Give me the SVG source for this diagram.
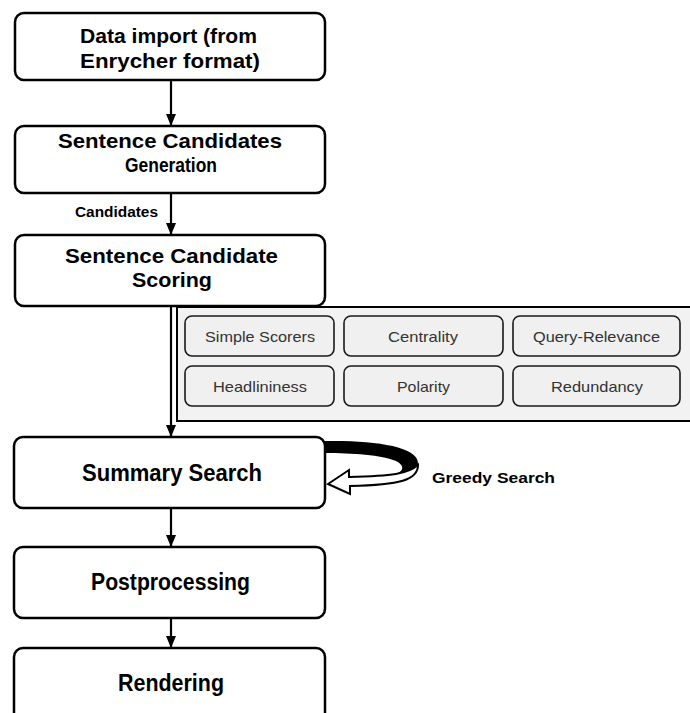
<svg xmlns="http://www.w3.org/2000/svg" width="690" height="713" viewBox="0 0 690 713">
  <defs>
    <marker id="arrow" markerWidth="12" markerHeight="14" refX="11" refY="5" orient="auto" markerUnits="userSpaceOnUse">
      <path d="M0,0 L12,5 L0,10 Z" fill="#000"/>
    </marker>
    <style>
      .step { fill: #fff; stroke: #000; stroke-width: 2.5; }
      .step-label { font-family: "Liberation Sans", Arial, sans-serif; font-weight: bold; font-size: 20.5px; fill: #000; }
      .step-label.big { font-size: 23px; }
      .panel { fill: #f2f2f2; stroke: #000; stroke-width: 2; }
      .scorer { fill: #f0f0f0; stroke: #1a1a1a; stroke-width: 1.6; }
      .scorer-label { font-family: "Liberation Sans", Arial, sans-serif; font-size: 14.5px; fill: #333; }
      .edge { stroke: #000; stroke-width: 2.2; fill: none; marker-end: url(#arrow); }
      .edge-label { font-family: "Liberation Sans", Arial, sans-serif; font-weight: bold; font-size: 14px; fill: #000; }
    </style>
  </defs>

  <rect width="690" height="713" fill="#fff"/>

  <!-- scorer panel attached to the scoring step -->
  <g id="scorers">
    <rect class="panel" x="177" y="307" width="530" height="114"/>
    <g id="scorer-simple">
      <rect class="scorer" x="185" y="316" width="149" height="40" rx="7"/>
      <text class="scorer-label" x="205" y="342" textLength="110" lengthAdjust="spacingAndGlyphs">Simple Scorers</text>
    </g>
    <g id="scorer-centrality">
      <rect class="scorer" x="344" y="316" width="159" height="40" rx="7"/>
      <text class="scorer-label" x="388" y="342" textLength="70" lengthAdjust="spacingAndGlyphs">Centrality</text>
    </g>
    <g id="scorer-query">
      <rect class="scorer" x="513" y="316" width="167" height="40" rx="7"/>
      <text class="scorer-label" x="533" y="342" textLength="127" lengthAdjust="spacingAndGlyphs">Query-Relevance</text>
    </g>
    <g id="scorer-headlininess">
      <rect class="scorer" x="185" y="366" width="149" height="40" rx="7"/>
      <text class="scorer-label" x="213" y="392" textLength="94" lengthAdjust="spacingAndGlyphs">Headlininess</text>
    </g>
    <g id="scorer-polarity">
      <rect class="scorer" x="344" y="366" width="159" height="40" rx="7"/>
      <text class="scorer-label" x="397" y="392" textLength="53" lengthAdjust="spacingAndGlyphs">Polarity</text>
    </g>
    <g id="scorer-redundancy">
      <rect class="scorer" x="513" y="366" width="167" height="40" rx="7"/>
      <text class="scorer-label" x="551" y="392" textLength="92" lengthAdjust="spacingAndGlyphs">Redundancy</text>
    </g>
  </g>

  <!-- pipeline steps -->
  <g id="import">
    <rect class="step" x="15" y="13" width="310" height="67" rx="9"/>
    <text class="step-label" x="80" y="43" textLength="177" lengthAdjust="spacingAndGlyphs">Data import (from</text>
    <text class="step-label" x="80" y="68" textLength="180" lengthAdjust="spacingAndGlyphs">Enrycher format)</text>
  </g>
  <g id="generation">
    <rect class="step" x="15" y="126" width="310" height="67" rx="9"/>
    <text class="step-label" x="58" y="148" textLength="224" lengthAdjust="spacingAndGlyphs">Sentence Candidates</text>
    <text class="step-label" x="125" y="172" textLength="92" lengthAdjust="spacingAndGlyphs">Generation</text>
  </g>
  <g id="scoring">
    <rect class="step" x="15" y="235" width="310" height="71" rx="9"/>
    <text class="step-label" x="65" y="263" textLength="213" lengthAdjust="spacingAndGlyphs">Sentence Candidate</text>
    <text class="step-label" x="132" y="287" textLength="80" lengthAdjust="spacingAndGlyphs">Scoring</text>
  </g>
  <g id="search">
    <rect class="step" x="14" y="437" width="311" height="71" rx="9"/>
    <text class="step-label big" x="82" y="481" textLength="180" lengthAdjust="spacingAndGlyphs">Summary Search</text>
  </g>
  <g id="postprocessing">
    <rect class="step" x="14" y="547" width="311" height="71" rx="9"/>
    <text class="step-label big" x="91" y="590" textLength="159" lengthAdjust="spacingAndGlyphs">Postprocessing</text>
  </g>
  <g id="rendering">
    <rect class="step" x="14" y="648" width="311" height="80" rx="9"/>
    <text class="step-label big" x="118" y="691" textLength="106" lengthAdjust="spacingAndGlyphs">Rendering</text>
  </g>

  <!-- connectors -->
  <g id="connectors">
    <line class="edge" x1="171" y1="80" x2="171" y2="125"/>
    <line class="edge" x1="171" y1="193" x2="171" y2="234"/>
    <text class="edge-label" x="75" y="217" textLength="83" lengthAdjust="spacingAndGlyphs">Candidates</text>
    <line class="edge" x1="171" y1="306" x2="171" y2="436"/>
    <line class="edge" x1="171" y1="508" x2="171" y2="546"/>
    <line class="edge" x1="171" y1="618" x2="171" y2="647"/>

    <!-- greedy search loop: dark back band, light returning arrow -->
    <g id="greedy-loop">
      <path d="M325,441 C372,440 418,446 418,463 C418,472 412,477 404,479 L398,473 C404,470 404,465 396,461 C382,455 352,453 325,453 Z" fill="#000"/>
      <path d="M418,465 C418,480 400,485 350,486 L350,494 L328,484 L349,470 L349,477 C392,476 408,474 418,465 Z" fill="#fff" stroke="#000" stroke-width="2" stroke-linejoin="miter"/>
    </g>
    <text class="edge-label" x="432" y="483" font-size="17" textLength="123" lengthAdjust="spacingAndGlyphs">Greedy Search</text>
  </g>
</svg>
